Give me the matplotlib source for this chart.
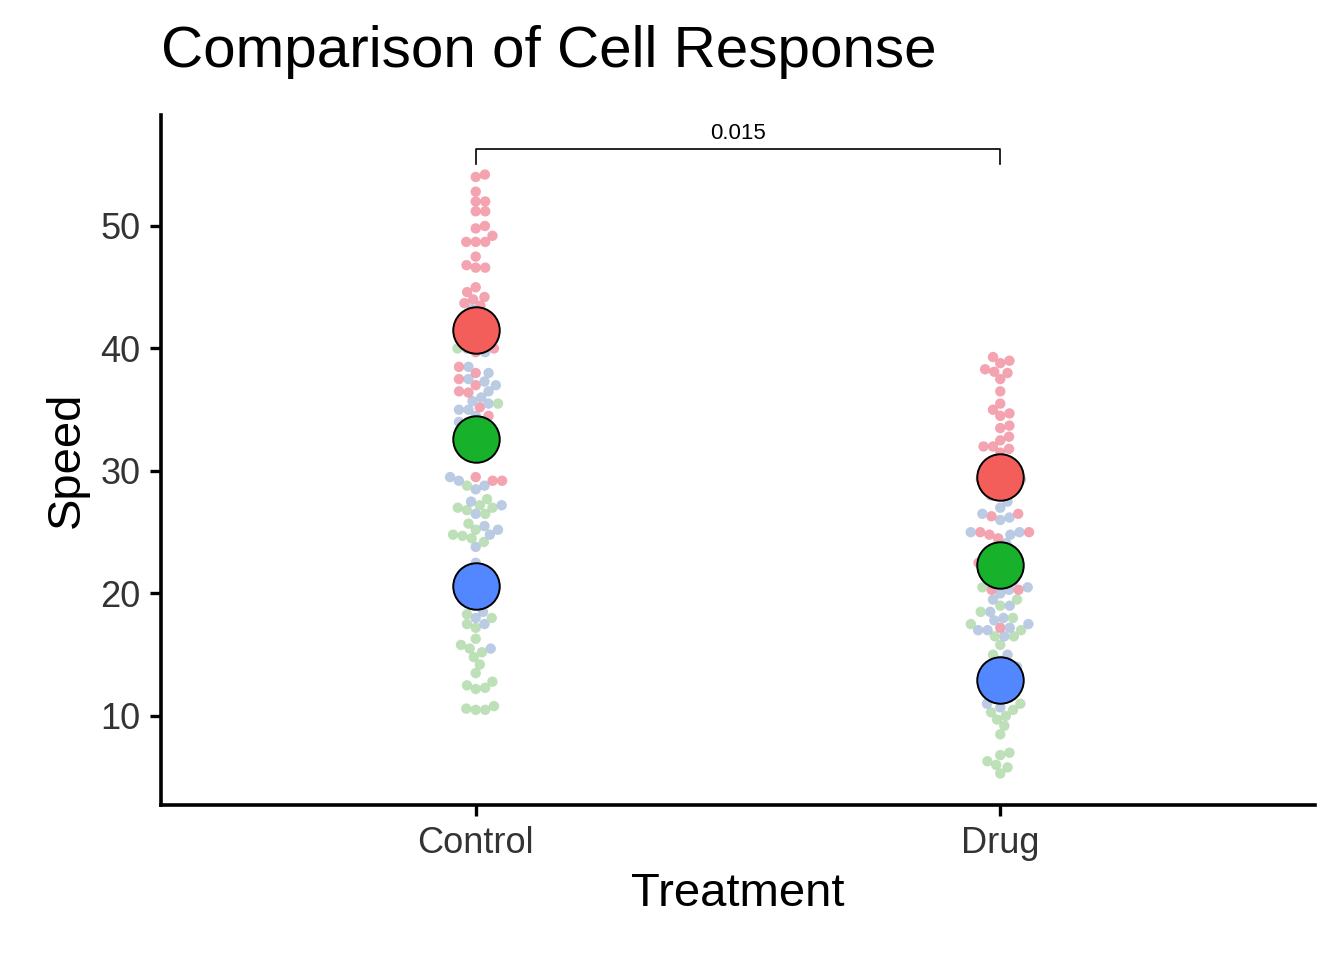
import matplotlib
matplotlib.use('Agg')
import matplotlib.pyplot as plt
import numpy as np

plt.rcParams['font.family'] = ['Liberation Sans', 'DejaVu Sans']

treatments = ['Control', 'Drug']
ctrl_r1 = [54.2, 54, 52.8, 52, 52, 51.2, 51.2, 50, 49.8, 49.2, 48.7, 48.7, 48.7, 47.5, 46.8, 46.6, 46.6,
           45, 44.6, 44.2, 44, 43.7, 43.5, 42.5, 42, 41.5, 41, 40.5, 40, 39.7, 38.5, 38, 37.5, 37, 36.5,
           36.4, 35.2, 34.5, 34, 33.8, 33.3, 33, 32.5, 32, 31.6, 29.5, 29.2, 29.2]
ctrl_r2 = [43.2, 42.8, 42, 41.5, 40, 39.7, 38.5, 38, 37.5, 37.3, 37, 36.5, 36, 35.7, 35.5, 35, 35, 34.5,
           34, 33.5, 33, 32, 31.5, 29.5, 29.2, 28.8, 28.5, 27.5, 27.2, 26.5, 25.5, 25.2, 24.8, 23.8,
           22.5, 20.3, 18.5, 18, 17.5, 15.5]
ctrl_r3 = [40, 35.5, 28.8, 27.7, 27.2, 27, 27, 26.8, 26.5, 25.7, 25.2, 24.8, 24.7, 24.5, 24.2, 22, 21.8,
           21.5, 20.7, 20.5, 20.4, 18.3, 18, 17.5, 17.2, 16.3, 15.8, 15.5, 15.2, 14.8, 14.2, 13.5, 12.8,
           12.5, 12.3, 12.2, 10.8, 10.6, 10.5, 10.5]
drug_r1 = [39.3, 39, 38.8, 38.3, 38.1, 38, 37.5, 36.5, 35.5, 35, 34.7, 34.5, 33.7, 33.5, 32.8, 32.5, 32,
           32, 31.8, 31.5, 30.5, 30.2, 30, 29.8, 29.5, 29.3, 29, 28.5, 28, 26.5, 26.3, 25, 25, 24.8, 24.5,
           23.6, 22.5, 21.7, 20.3, 20.3, 17.2]
drug_r2 = [29.3, 29.2, 28.8, 28, 27.5, 27, 26.5, 26.2, 26, 25, 25, 24.8, 24.1, 23.5, 22.5, 22, 21.8,
           21.5, 21, 20.5, 20.3, 20, 19.5, 19, 18.5, 18, 17.8, 17.5, 17.2, 17, 17, 16.5, 15, 14, 12.5,
           11, 10.7]
drug_r3 = [23, 22.5, 21, 20.5, 19.5, 19, 18.5, 18, 17.5, 17, 16.5, 16.5, 15.8, 15, 14.5, 14, 14, 13.5,
           13, 12.5, 12, 11.5, 11, 10.5, 10.3, 10, 9.7, 9.2, 8.5, 7, 6.8, 6.3, 6, 5.8, 5.3]
means_ctrl = [41.5, 32.6, 20.6]
means_drug = [29.5, 22.3, 12.9]
p_label = '0.015'

small_cols = ['#F29AA8', '#B3C6E0', '#B6DDB2']
big_cols = ['#F35E5A', '#17B12B', '#5287FF']

fig = plt.figure(figsize=(6.72, 4.8), dpi=200)
ax = fig.add_axes([161/1344, 1-805/960, (1315-161)/1344, (805-115)/960])
ax.set_xlim(0.4, 2.6)
ax.set_ylim(2.73, 59.06)

# simple swarm layout in pixel space
pxx, pxy, r = 525.0, 12.25, 9.5
def swarm(ys):
    placed = []
    out = []
    for y in ys:
        cand = [0.0]
        for (px, py) in placed:
            dy = (y - py) * pxy
            if abs(dy) < r:
                dx = np.sqrt(r * r - dy * dy)
                cand += [px + dx, px - dx]
        cand.sort(key=abs)
        for c in cand:
            ok = all((c - px) ** 2 + ((y - py) * pxy) ** 2 >= r * r - 1e-6 for px, py in placed)
            if ok:
                placed.append((c, y))
                out.append(c)
                break
    return np.array(out) / pxx

for xc, reps, means in [(1, [ctrl_r1, ctrl_r2, ctrl_r3], means_ctrl),
                        (2, [drug_r1, drug_r2, drug_r3], means_drug)]:
    ys = np.concatenate(reps)
    cs = np.concatenate([[i] * len(rp) for i, rp in enumerate(reps)])
    order = np.argsort(ys)
    ys, cs = ys[order], cs[order]
    xs = swarm(ys)
    ax.scatter(xc + xs, ys, s=14, c=[small_cols[i] for i in cs], edgecolors='none', alpha=0.9, zorder=2)
    for m, col in zip(means, big_cols):
        ax.scatter([xc], [m], s=280, c=col, edgecolors='black', linewidths=0.7, zorder=3)

ax.plot([1, 1, 2, 2], [55.1, 56.3, 56.3, 55.1], color='black', lw=0.6)
ax.text(1.5, 56.7, p_label, ha='center', va='bottom', fontsize=8)

ax.set_xticks([1, 2])
ax.set_xticklabels(treatments)
ax.set_yticks([10, 20, 30, 40, 50])
ax.tick_params(labelsize=13, colors='#333333', length=4, width=1.2)
ax.tick_params(axis='both', color='black')
for s in ['top', 'right']:
    ax.spines[s].set_visible(False)
for s in ['left', 'bottom']:
    ax.spines[s].set_linewidth(1.3)
ax.set_xlabel('Treatment', fontsize=17)
ax.set_ylabel('Speed', fontsize=17)
fig.text(161/1344, 1-52/960, 'Comparison of Cell Response', fontsize=21, va='center')
fig.savefig('out.png', dpi=200)
